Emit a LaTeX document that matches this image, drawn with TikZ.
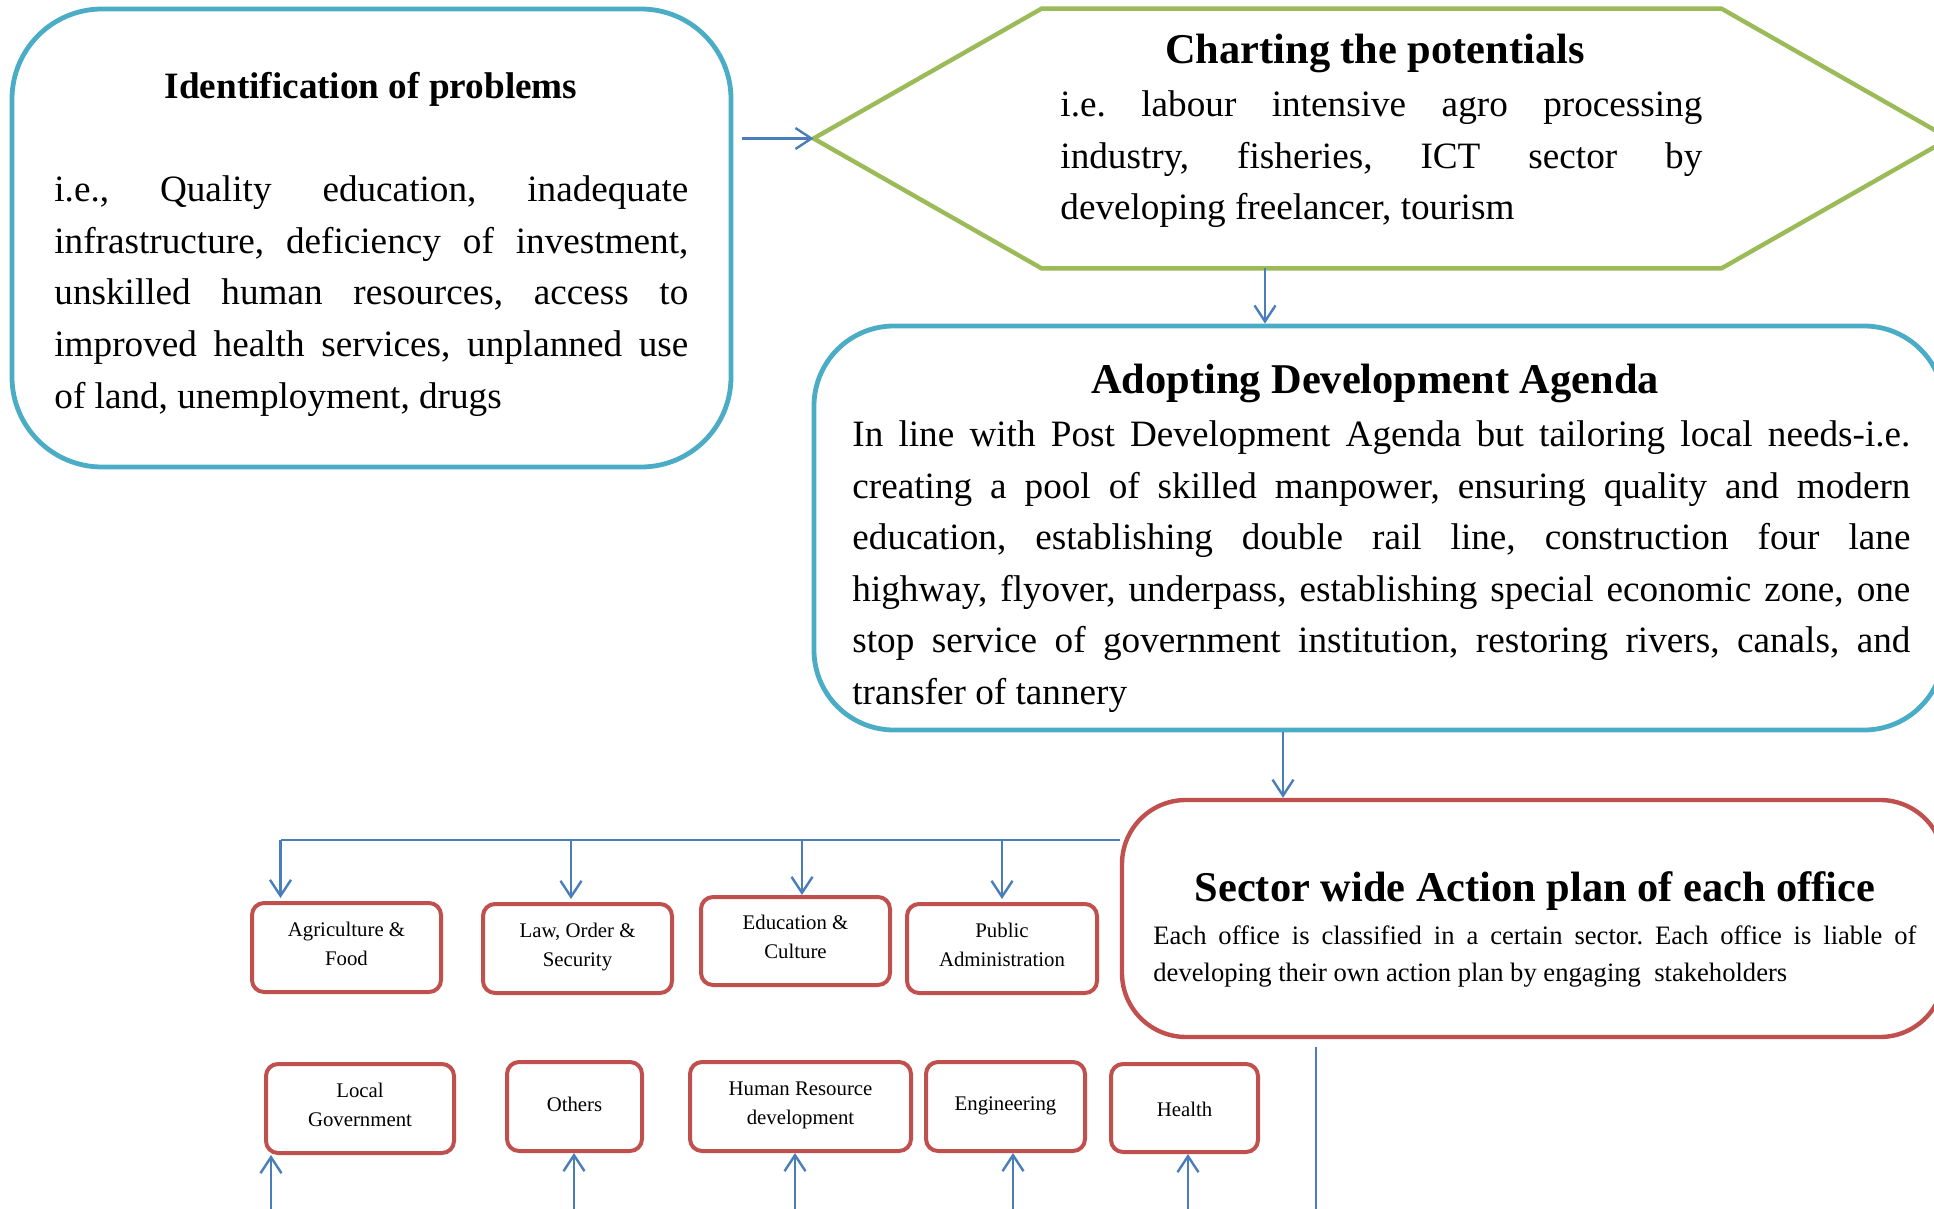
\documentclass[tikz,border=0pt]{standalone}
\usepackage{fontspec}
\setmainfont{Liberation Serif}
\usetikzlibrary{arrows.meta,calc}
\definecolor{tealc}{HTML}{4BACC6}
\definecolor{greenc}{HTML}{9BBB59}
\definecolor{redc}{HTML}{C0504D}
\definecolor{bluec}{HTML}{4A7EBB}
\newcommand\jl[2]{\makebox[#1][s]{#2}}
\newcommand\sbt[2][-0.7pt]{\raisebox{#1}[0pt][0pt]{\begin{tabular}{@{}c@{}}#2\end{tabular}}}
\frenchspacing
\begin{document}
\begin{tikzpicture}[x=1pt,y=-1pt,
 tealbox/.style={draw=tealc, line width=2.4pt, inner sep=0pt},
 redbig/.style={draw=redc, line width=2.2pt, inner sep=0pt, rounded corners=32pt},
 secbox/.style={draw=redc, line width=2pt, rounded corners=6pt, inner sep=0pt, font=\fontsize{10.4}{14.5}\selectfont},
 conn/.style={draw=bluec, line width=1.2pt, -{Straight Barb[length=8pt,width=10.5pt]}},
 thinl/.style={draw=bluec, line width=0.7pt},
 ttl/.style={anchor=base, inner sep=0pt, font=\bfseries\fontsize{21.2}{25}\selectfont},
 body/.style={anchor=base west, inner sep=0pt}
]
\useasboundingbox (0,0) rectangle (967,604.5);
\clip (0,0) rectangle (967,604.5);

% Identification of problems
\node[tealbox, rounded corners=45pt, minimum width=359.5pt, minimum height=229pt] (prob) at (185.75,119) {};
\node[ttl, font=\bfseries\fontsize{18.6}{22}\selectfont] (probT) at (185.5,49.4) {Identification of problems};
\node[body] (probB) at (27,100.9) {\parbox[t]{317pt}{\fontsize{18.6}{25.8}\selectfont
\jl{317pt}{i.e., Quality education, inadequate}\\
\jl{317pt}{infrastructure, deficiency of investment,}\\
\jl{317pt}{unskilled human resources, access to}\\
\jl{317pt}{improved health services, unplanned use}\\
of land, unemployment, drugs}};

% Charting the potentials (hexagon)
\node[minimum width=567.5pt, minimum height=129.5pt, inner sep=0pt] (hex) at (690.75,69.25) {};
\draw[draw=greenc, line width=2.2pt] (hex.west) -- ([xshift=114pt]hex.north west) -- ([xshift=-114pt]hex.north east) -- (hex.east) -- ([xshift=-114pt]hex.south east) -- ([xshift=114pt]hex.south west) -- cycle;
\node[ttl] (hexT) at (687.5,31.8) {Charting the potentials};
\node[body] (hexB) at (530,58.3) {\parbox[t]{321pt}{\fontsize{18.6}{25.8}\selectfont
\jl{321pt}{i.e. labour intensive agro processing}\\
\jl{321pt}{industry, fisheries, ICT sector by}\\
developing freelancer, tourism}};

% Adopting Development Agenda
\node[tealbox, rounded corners=40pt, minimum width=565pt, minimum height=202pt] (adopt) at (689.5,264) {};
\node[ttl] (adoptT) at (687.5,196.6) {Adopting Development Agenda};
\node[body] (adoptB) at (426,223.3) {\parbox[t]{529pt}{\fontsize{18.6}{25.8}\selectfont
\jl{529pt}{In line with Post Development Agenda but tailoring local needs-i.e.}\\
\jl{529pt}{creating a pool of skilled manpower, ensuring quality and modern}\\
\jl{529pt}{education, establishing double rail line, construction four lane}\\
\jl{529pt}{highway, flyover, underpass, establishing special economic zone, one}\\
\jl{529pt}{stop service of government institution, restoring rivers, canals, and}\\
transfer of tannery}};

% Sector wide Action plan
\node[redbig, minimum width=411pt, minimum height=118.5pt] (sector) at (766.5,459.25) {};
\node[ttl] (sectorT) at (767.5,450.8) {Sector wide Action plan of each office};
\node[body] (sectorB) at (576.5,472) {\parbox[t]{381.5pt}{\fontsize{13.3}{18.5}\selectfont
\jl{381.5pt}{Each office is classified in a certain sector. Each office is liable of}\\
developing their own action plan by engaging\ \ stakeholders}};

% sector boxes, top row
\node[secbox, minimum width=94.5pt, minimum height=44.5pt] (agri) at (173.25,473.75) {\sbt[-1.1pt]{Agriculture \&\\Food}};
\node[secbox, minimum width=94.5pt, minimum height=44.5pt] (law) at (288.75,474.25) {\sbt[-1.1pt]{Law, Order \&\\Security}};
\node[secbox, minimum width=94.5pt, minimum height=44pt] (edu) at (397.75,470.5) {\sbt[-1.1pt]{Education \&\\Culture}};
\node[secbox, minimum width=95pt, minimum height=44.5pt] (pub) at (501,474.25) {\sbt[-1.1pt]{Public\\Administration}};

% sector boxes, bottom row
\node[secbox, minimum width=94pt, minimum height=44.5pt] (local) at (180,554.25) {\sbt[-1.1pt]{Local\\Government}};
\node[secbox, minimum width=67.5pt, minimum height=44.5pt] (oth) at (287.25,553.25) {\sbt[-1.9pt]{Others}};
\node[secbox, minimum width=110.5pt, minimum height=44.5pt] (hrd) at (400.25,553.25) {\sbt[-1.1pt]{Human Resource\\development}};
\node[secbox, minimum width=79.5pt, minimum height=44.5pt] (eng) at (502.75,553.25) {\sbt[-1.5pt]{Engineering}};
\node[secbox, minimum width=73.5pt, minimum height=44pt] (health) at (592.25,554) {\sbt[-3.6pt]{Health}};

% connectors
\coordinate (a1) at (371,69.25);
\draw[conn] (a1) -- (hex.west);
\coordinate (a2) at ([xshift=-58.25pt]hex.south);
\draw[conn] (a2) -- (a2 |- adopt.north);
\coordinate (a3) at ([xshift=-48pt]adopt.south);
\draw[conn] (a3) -- (a3 |- sector.north);

\coordinate (hl) at (140.25,420);
\draw[thinl] (sector.west |- hl) -- (hl);
\coordinate (d2) at (285.5,420);
\coordinate (d3) at (401,420);
\coordinate (d4) at (501,420);
\draw[conn, shorten >=1.5pt] (hl) -- (hl |- agri.north);
\draw[conn, shorten >=1.5pt] (d2) -- (d2 |- law.north);
\draw[conn] (d3) -- (d3 |- edu.north);
\draw[conn, shorten >=1.5pt] (d4) -- (d4 |- pub.north);

\coordinate (u1) at (135.5,607);
\coordinate (u2) at (287,607);
\coordinate (u3) at (397.5,607);
\coordinate (u4) at (506.5,607);
\coordinate (u5) at (594,607);
\draw[conn] (u1) -- (u1 |- local.south);
\draw[conn] (u2) -- (u2 |- oth.south);
\draw[conn] (u3) -- (u3 |- hrd.south);
\draw[conn] (u4) -- (u4 |- eng.south);
\draw[conn] (u5) -- (u5 |- health.south);

\coordinate (v1) at (658,523.5);
\coordinate (v2) at (658,607);
\draw[thinl] (v1) -- (v2);
\end{tikzpicture}
\end{document}
